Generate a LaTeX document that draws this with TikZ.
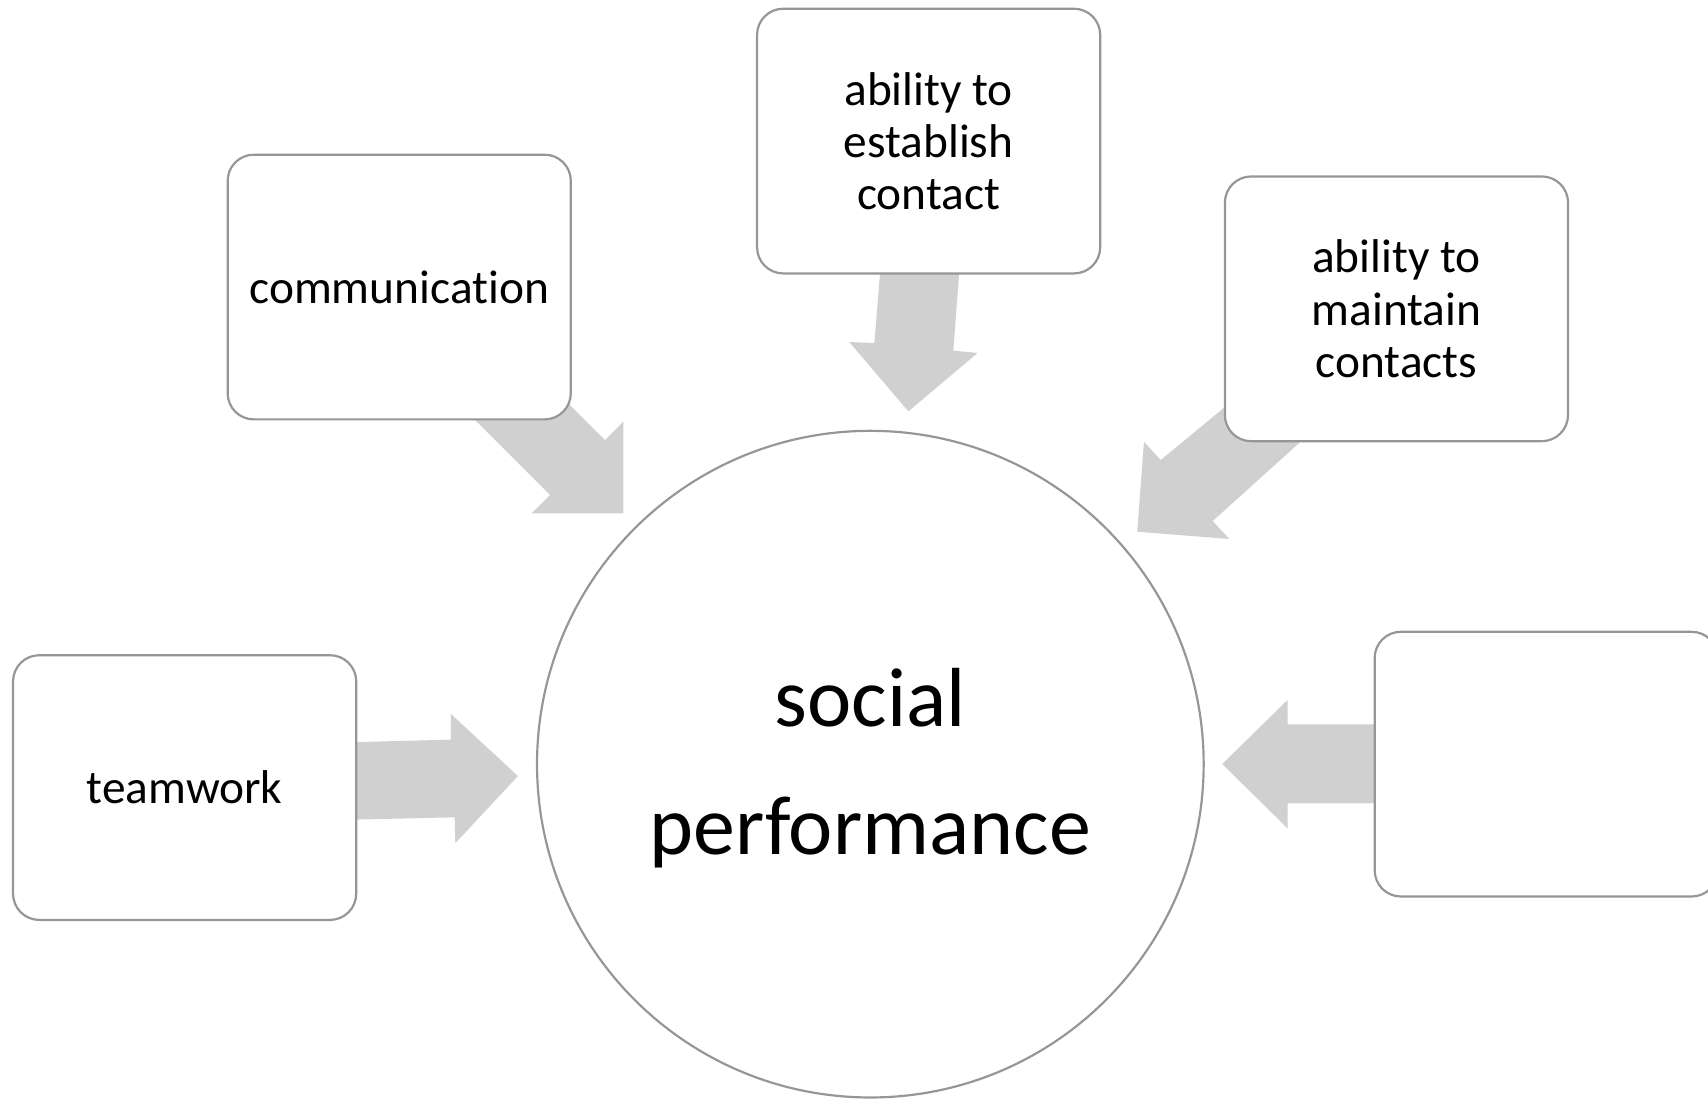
\documentclass[tikz,border=0pt]{standalone}
\usepackage{fontspec}
\setmainfont{Carlito}[Ligatures=NoCommon]
\definecolor{edgegray}{HTML}{969696}
\definecolor{arrowgray}{HTML}{D0D0D0}
\tikzset{
  box/.style={draw=edgegray, line width=1pt, fill=white, rounded corners=12pt,
    minimum width=157.5pt, minimum height=121.5pt, inner sep=0pt, align=center,
    font=\fontsize{21.75}{24}\selectfont},
  hub/.style={draw=edgegray, line width=1pt, fill=white, circle, minimum size=306pt,
    inner sep=0pt},
  hubtext/.style={inner sep=0pt, align=center, font=\fontsize{38.5}{59}\selectfont},
  blockarrow/.style={fill=arrowgray, draw=none}
}
\begin{document}
\begin{tikzpicture}[x=0.5pt, y=-0.5pt]
\useasboundingbox (0,0) rectangle (1568,1009);
% block arrows (drawn beneath the boxes)
\fill[blockarrow] (300,682) -- (414,679) -- (414,655.5) -- (475.5,712.4) -- (418,774) -- (417.4,750.3) -- (300,753) -- cycle;
\fill[blockarrow] (420,369.4) -- (505,454.4) -- (488,471.3) -- (572.2,471.3) -- (572.2,387.1) -- (555.4,404) -- (500,348.6) -- cycle;
\fill[blockarrow] (809.6,230) -- (802.7,314.9) -- (779.7,314) -- (833.9,377.6) -- (897.5,324) -- (875.2,321.9) -- (882,230) -- cycle;
\fill[blockarrow] (1160,344.4) -- (1065.5,422.3) -- (1050.2,405.5) -- (1044,488.1) -- (1128.5,494.8) -- (1113.3,478.3) -- (1220,382) -- cycle;
\fill[blockarrow] (1290,665) -- (1182,665) -- (1182,642.6) -- (1122,701.4) -- (1182,760.4) -- (1182,737.5) -- (1290,737.5) -- cycle;
% nodes
\node[hub] (center) at (799,701.5) {};
\node[hubtext] (centerlabel) at (799,705) {social\\performance};
\node[box] (comm) at (366.5,263.5) {communication};
\node[box] (estab) at (852.5,129.5) {ability to\\establish\\contact};
\node[box] (maint) at (1282,283.5) {ability to\\maintain\\contacts};
\node[box] (team) at (169.5,723) {teamwork};
\node[box] (empty) at (1419.5,701.5) {};
\end{tikzpicture}
\end{document}
